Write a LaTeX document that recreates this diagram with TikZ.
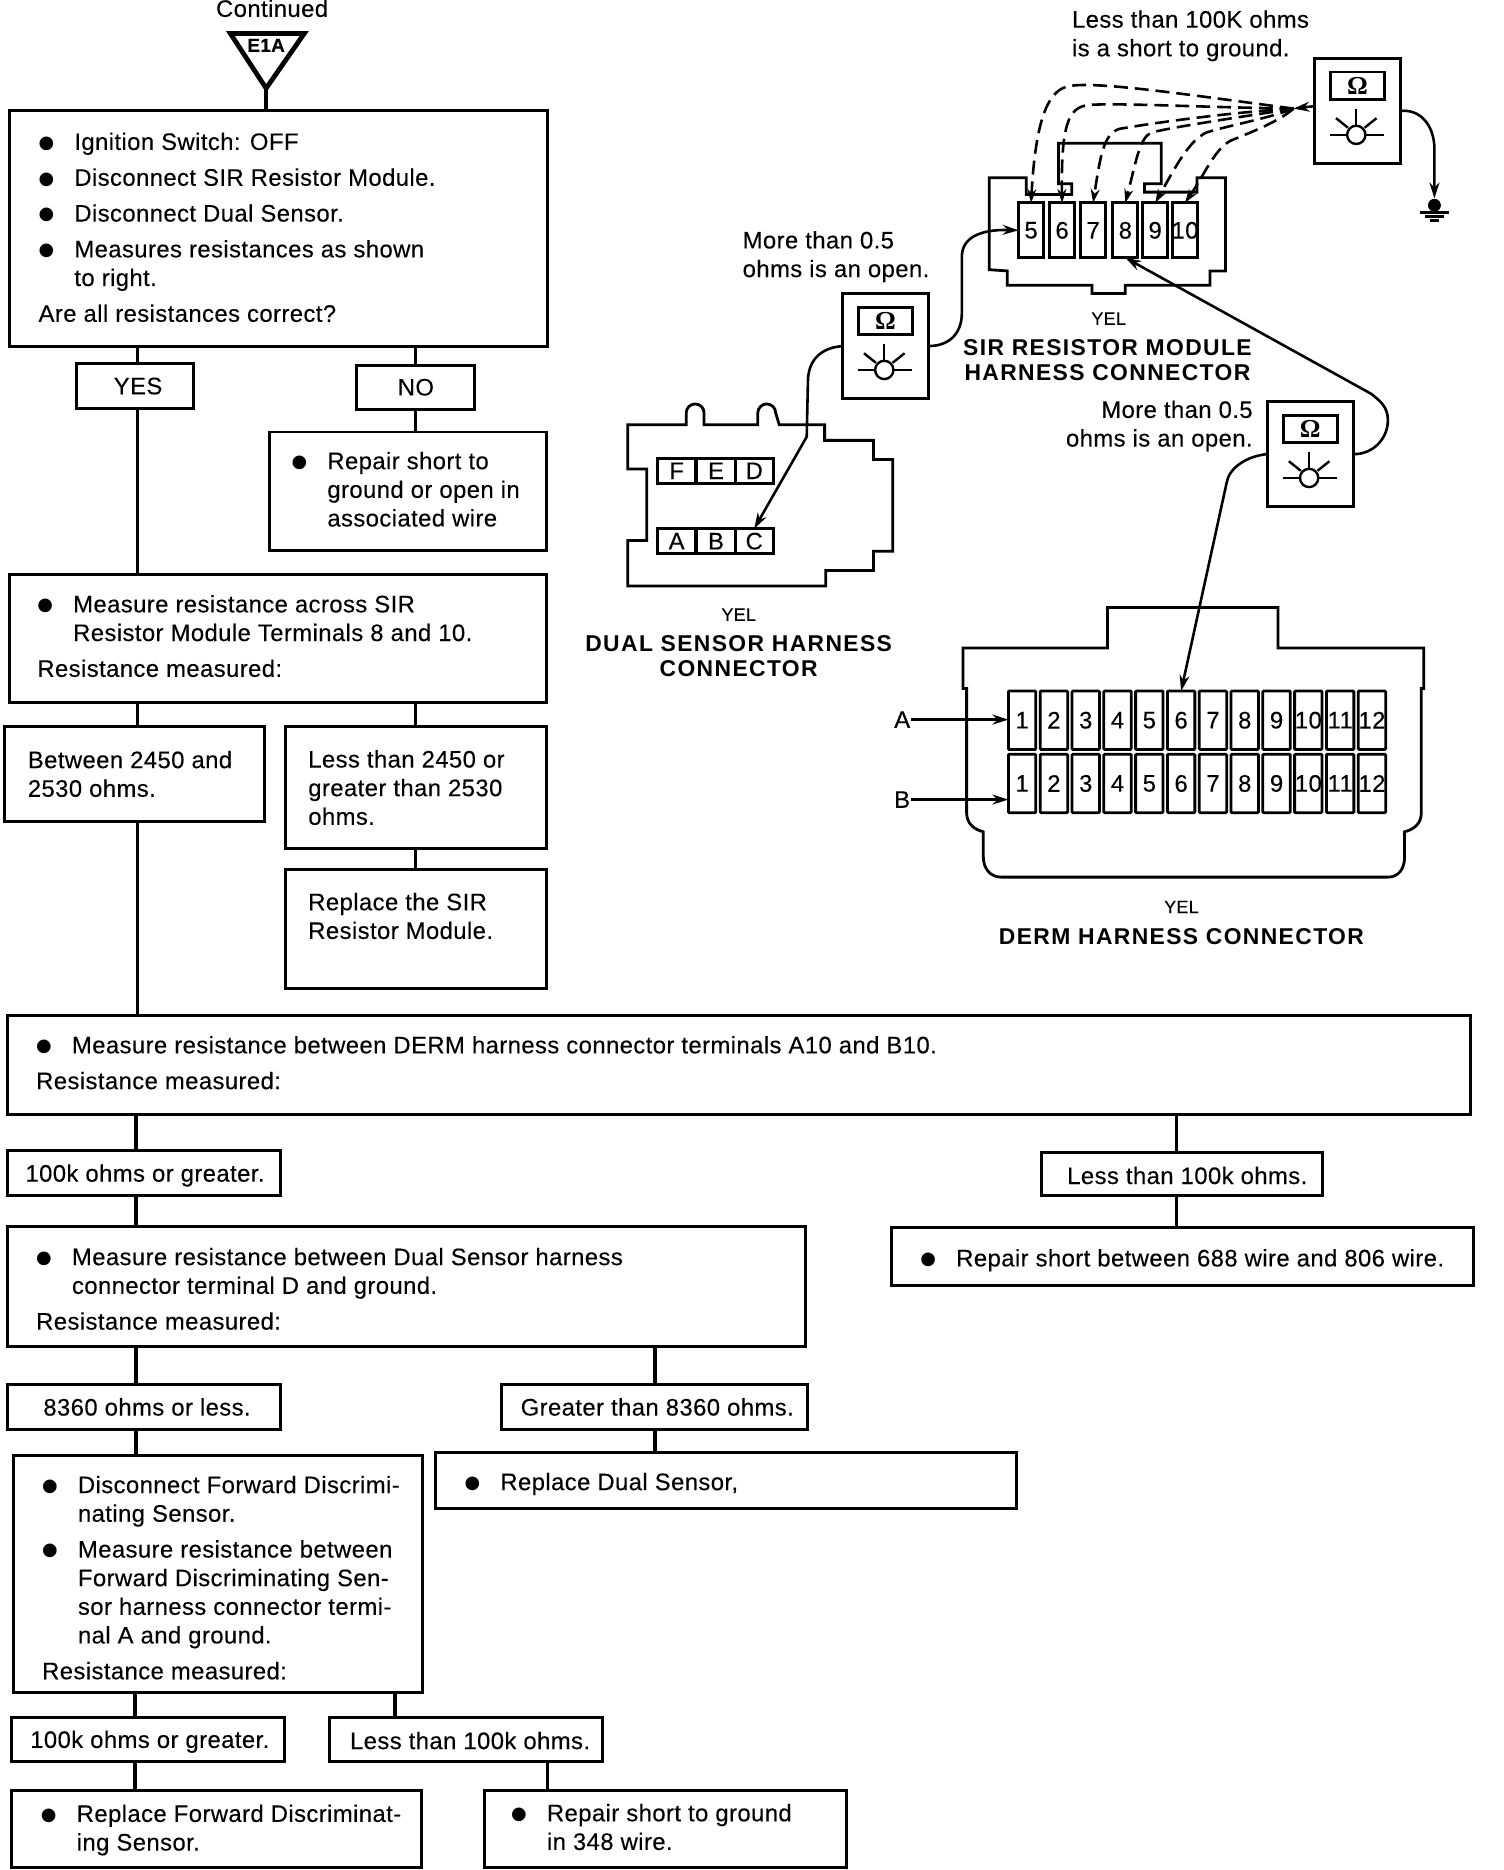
\documentclass[tikz,border=0pt]{standalone}
\usepackage{fontspec}
\usetikzlibrary{arrows.meta}
\setmainfont[LetterSpace=1.7,FakeBold=0.2]{Liberation Sans}
\newfontfamily\ttlfont[LetterSpace=6]{Liberation Sans}
\newfontfamily\bulfont{DejaVu Sans}
\newfontfamily\omfont{Liberation Serif}
\newcommand{\bitem}{\makebox[18pt][l]{\hspace{0pt}\raisebox{0.8pt}{\bulfont\fontsize{9}{9}\selectfont ●}}}
\newcommand{\cont}{\hspace*{18pt}}
\newcommand{\fbx}[8][0]{%
  \node[flowbox,minimum width={(#5-#3)*0.6pt},minimum height={(#6-#4)*0.6pt}] (#2) at ({(#3+#5)/2},{(#4+#6)/2}) {};
  \node[flowtext,anchor=west] (#2t) at ({#3+#7},{(#4+#6)/2+#1}) {#8};
}
\tikzset{
  flowbox/.style={draw,line width=1.5pt,inner sep=0pt,outer sep=0pt},
  flowtext/.style={inner sep=0pt,align=left,font=\fontsize{12}{14.4}\selectfont},
  conn/.style={line width=1.7pt},
  wire/.style={line width=1.3pt,>={Stealth[length=8pt,width=5pt]}},
  dashwire/.style={line width=1.3pt,>={Stealth[length=7pt,width=4.5pt]},dash pattern=on 7pt off 3.5pt},
  term/.style={draw,line width=1.4pt,inner sep=0pt,outer sep=0pt,font=\fontsize{12}{14}\selectfont},
  outline/.style={line width=1.4pt,line join=miter},
  lbl/.style={inner sep=0pt,align=left,font=\fontsize{12}{14.4}\selectfont},
  small/.style={inner sep=0pt,font=\fontsize{9}{11}\selectfont},
  title/.style={inner sep=0pt,align=center,font=\fontsize{11.5}{12.6}\ttlfont\bfseries},
  meterbox/.style={draw,line width=1.5pt,minimum width=43pt,minimum height=53pt,inner sep=0pt,outer sep=0pt},
  omega/.style={draw,line width=1.5pt,minimum width=27pt,minimum height=14pt,inner sep=0pt,font=\omfont\bfseries\fontsize{13}{13}\selectfont},
  meterface/.pic={
    \node[omega] (disp) at (0,-21) {Ω};
    \draw[line width=1.2pt] (-1,20) circle [radius=4.6pt];
    \draw[line width=1.2pt] (-1,-2)--(-1,12);
    \draw[line width=1.2pt] (-23,20)--(-9,20);
    \draw[line width=1.2pt] (7,20)--(22,20);
    \draw[line width=1.2pt] (-18,6)--(-8,14);
    \draw[line width=1.2pt] (16,6)--(6,14);
  }
}
\begin{document}
\begin{tikzpicture}[x=0.6pt,y=-0.6pt]
  \useasboundingbox (0,0) rectangle (1260.3,1567);
  % entry triangle
  \node[lbl] (cont) at (228,7) {Continued};
  \draw[line width=2.4pt,line join=miter] (193,28)--(255,28)--(223,74)--cycle;
  \node[inner sep=0pt,font=\fontsize{9.5}{12}\selectfont\bfseries] (eia) at (223,38) {E1A};
  \coordinate (tip) at (223,74);
  % flow boxes
  \fbx[-1]{ign}{8}{93}{459}{290}{24}{\bitem Ignition Switch: OFF\\[3.6pt]\bitem Disconnect SIR Resistor Module.\\[3.6pt]\bitem Disconnect Dual Sensor.\\[3.6pt]\bitem Measures resistances as shown\\\cont to right.\\[3.6pt]Are all resistances correct?}
  \fbx{yes}{64}{305}{162}{342}{31}{YES}
  \fbx{no}{299}{306}{398}{343}{34}{NO}
  \fbx[-1.5]{rep}{226}{362}{458}{461}{18}{\bitem Repair short to\\\cont ground or open in\\\cont associated wire}
  \fbx[-2]{meas}{8}{481}{458}{589}{23}{\bitem Measure resistance across SIR\\\cont Resistor Module Terminals 8 and 10.\\[3.6pt]Resistance measured:}
  \fbx{betw}{4}{609}{222}{688}{19}{Between 2450 and\\2530 ohms.}
  \fbx{lesst}{239}{609}{458}{711}{19}{Less than 2450 or\\greater than 2530\\ohms.}
  \fbx[1]{replm}{239}{729}{458}{828}{19}{Replace the SIR\\Resistor Module.\\\rule{0pt}{0pt}}
  \fbx[-2]{derm}{6}{851}{1232}{934}{24}{\bitem Measure resistance between DERM harness connector terminals A10 and B10.\\[3.6pt]Resistance measured:}
  \fbx[2]{hka}{6}{964}{235}{1002}{15}{100k ohms or greater.}
  \fbx[1]{lka}{873}{966}{1108}{1002}{21}{Less than 100k ohms.}
  \fbx[2]{dualm}{6}{1028}{675}{1128}{24}{\bitem Measure resistance between Dual Sensor harness\\\cont connector terminal D and ground.\\[3.6pt]Resistance measured:}
  \fbx[3]{repsh}{747}{1029}{1235}{1077}{24}{\bitem Repair short between 688 wire and 806 wire.}
  \fbx{ohless}{6}{1160}{235}{1198}{30}{8360 ohms or less.}
  \fbx{ohmore}{420}{1160}{677}{1198}{16}{Greater than 8360 ohms.}
  \fbx[3]{repds}{365}{1217}{852}{1264}{24}{\bitem Replace Dual Sensor,}
  \fbx[3]{fwd}{11}{1220}{354}{1418}{24}{\bitem Disconnect Forward Discrimi-\\\cont nating Sensor.\\[3.6pt]\bitem Measure resistance between\\\cont Forward Discriminating Sen-\\\cont sor harness connector termi-\\\cont nal A and ground.\\[3.6pt]Resistance measured:}
  \fbx[2]{hkb}{10}{1439}{238}{1476}{15}{100k ohms or greater.}
  \fbx[1]{lkb}{276}{1439}{505}{1476}{17}{Less than 100k ohms.}
  \fbx[1]{repfw}{10}{1500}{353}{1565}{24}{\bitem Replace Forward Discriminat-\\\cont ing Sensor.}
  \fbx[-1.5]{repgd}{406}{1500}{709}{1565}{22}{\bitem Repair short to ground\\\cont in 348 wire.}
  % flow connectors
  \draw[conn] (tip) -- (tip |- ign.north);
  \foreach \xx/\up/\dn in {115/ign/yes,348/ign/no,348/no/rep,115/yes/meas,115/meas/betw,348/meas/lesst,348/lesst/replm,115/betw/derm,114/derm/hka,986/derm/lka,114/hka/dualm,986/lka/repsh,114/dualm/ohless,549/dualm/ohmore,549/ohmore/repds,114/ohless/fwd,113/fwd/hkb,331/fwd/lkb,113/hkb/repfw,459/lkb/repgd}
  {
    \coordinate (tmp) at (\xx,0);
    \draw[conn] (tmp |- \up.south) -- (tmp |- \dn.north);
  }
  % SIR connector
  \draw[outline] (829,226)--(829,149)--(860,149)--(860,163)--(898,163)--(898,154)--(887,154)--(887,120)--(973,120)--(973,154)--(959,154)--(959,161)--(1003,161)--(1003,149)--(1027,149)--(1027,227)--(1014,227)--(1014,239)--(943,239)--(943,246)--(915,246)--(915,239)--(844,239)--(844,227)--cycle;
  \foreach \n/\x in {5/864,6/890,7/916,8/943,9/968,10/993}
    \node[term,fill=white,minimum width=12.6pt,minimum height=27.6pt] (s\n) at (\x,193) {\makebox[0pt]{\n}};
  \node[small] (syel) at (929,267) {YEL};
  \node[title] (stitle) at (928,302) {SIR RESISTOR MODULE\\HARNESS CONNECTOR};
  % dual sensor connector
  \draw[outline] (526,356)--(575,356)--(575,346) arc[start angle=180,end angle=0,radius=4.5pt]--(590,356)--(635,356)--(635,346) arc[start angle=180,end angle=0,radius=4.5pt]--(653,356)--(691,356)--(691,369)--(732,369)--(732,385)--(748,385)--(748,462)--(732,462)--(732,478)--(692,478)--(692,491)--(526,491)--(526,453)--(542,453)--(542,393)--(526,393)--cycle;
  \foreach \n/\x in {F/567,E/600,D/632}
    \node[term,minimum width=19.2pt,minimum height=12.6pt] (d\n) at (\x,394.5) {\n};
  \foreach \n/\x in {A/567,B/600,C/632}
    \node[term,minimum width=19.2pt,minimum height=12.6pt] (d\n) at (\x,453.5) {\n};
  \node[small] (dyel) at (619,515) {YEL};
  \node[title] (dtitle) at (619,550) {DUAL SENSOR HARNESS\\CONNECTOR};
  % DERM connector
  \draw[outline] (807,577)--(807,543)--(928,543)--(928,509)--(1071,509)--(1071,543)--(1193,543)--(1193,577)--(1191,577)--(1191,681) .. controls (1191,690) and (1185,695) .. (1177,697)--(1177,718) .. controls (1177,728) and (1172,735) .. (1163,735)--(839,735) .. controls (830,735) and (824,728) .. (824,718)--(824,697) .. controls (816,695) and (810,690) .. (810,681)--(810,577)--cycle;
  \foreach \i in {1,...,12}
  {
    \pgfmathsetmacro\xc{856.5+26.65*(\i-1)}
    \node[term,fill=white,rounded corners=0.5pt,minimum width=13.8pt,minimum height=29.4pt] (a\i) at (\xc,603.5) {\makebox[0pt]{\i}};
    \node[term,fill=white,rounded corners=0.5pt,minimum width=13.8pt,minimum height=29.4pt] (b\i) at (\xc,656.5) {\makebox[0pt]{\i}};
  }
  \node[lbl] (la) at (756,603) {A};
  \node[lbl] (lb) at (756,670) {B};
  \draw[wire,->] (la.east) -- (la.east -| a1.west);
  \draw[wire,->] (lb.east) -- (lb.east -| b1.west);
  \node[small] (ayel) at (990,760) {YEL};
  \node[title] (atitle) at (990,785) {DERM HARNESS CONNECTOR};
  % meters
  \node[meterbox] (mone) at (1137.5,93) {};
  \node[meterbox] (mtwo) at (742,290) {};
  \node[meterbox] (mthree) at (1098,380.5) {};
  \pic (fone) at (mone) {meterface};
  \pic (ftwo) at (mtwo) {meterface};
  \pic (fthree) at (mthree) {meterface};
  \node[lbl,anchor=west] (nshort) at (898,30) {Less than 100K ohms\\is a short to ground.};
  \node[lbl,anchor=west] (nopen) at (622,215) {More than 0.5\\ohms is an open.};
  \node[lbl,anchor=east,align=right] (nopenb) at (1050,357) {More than 0.5\\ohms is an open.};
  % ground
  \node[circle,fill,inner sep=0pt,minimum size=6.5pt] (gnd) at (1202,172) {};
  \draw[line width=1.3pt] (1190,178)--(1214,178);
  \draw[line width=1.3pt] (1194,181.5)--(1210,181.5);
  \draw[line width=1.3pt] (1198,185)--(1206,185);
  \draw[wire,->] (mone.east) .. controls (1190,91) and (1202,105) .. (1202,125) -- (gnd.north);
  % test leads
  \draw[wire,->] (mtwo.east) .. controls (795,290) and (806,280) .. (806,262) -- (806,215) .. controls (806,200) and (820,192) .. (s5.west);
  \draw[wire,->] (mtwo.west) .. controls (690,291) and (677,300) .. (677,320) -- (676,366) -- (dC.north);
  \draw[wire,->] (mthree.east) .. controls (1150,381) and (1163,368) .. (1163,352) .. controls (1163,340) and (1155,335) .. (1149,330) -- (s8.south);
  \draw[wire,->] (mthree.west) .. controls (1045,382) and (1030,392) .. (1028,404) -- (a6.north);
  \coordinate (mtap) at (1101,89);
  \coordinate (mjoin) at (1084,91);
  \draw[wire,->] (mtap) -- (mjoin);
  \draw[dashwire,->] (mjoin) .. controls (1000,80) and (920,68) .. (897,72) .. controls (880,74) and (868,95) .. (s5.north);
  \draw[dashwire,->] (mjoin) .. controls (1010,90) and (935,86) .. (912,88) .. controls (895,90) and (889,105) .. (s6.north);
  \draw[dashwire,->] (mjoin) .. controls (1030,94) and (960,104) .. (938,108) .. controls (925,112) and (922,130) .. (s7.north);
  \draw[dashwire,->] (mjoin) .. controls (1040,98) and (985,106) .. (965,111) .. controls (955,115) and (952,135) .. (s8.north);
  \draw[dashwire,->] (mjoin) .. controls (1060,100) and (1030,105) .. (1011,111) .. controls (996,118) and (985,140) .. (s9.north);
  \draw[dashwire,->] (mjoin) .. controls (1070,103) and (1045,112) .. (1031,118) .. controls (1018,125) and (1010,145) .. (s10.north);
\end{tikzpicture}
\end{document}
